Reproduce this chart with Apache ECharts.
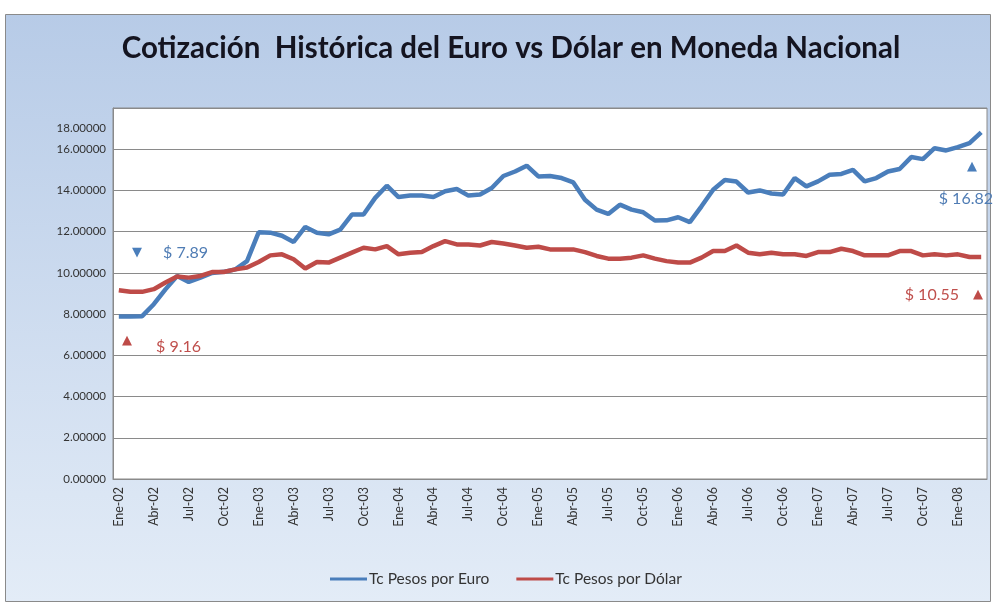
<!DOCTYPE html>
<html>
<head>
<meta charset="utf-8">
<script src="https://cdn.jsdelivr.net/npm/echarts@6/dist/echarts.min.js"></script>
<style>
html,body{margin:0;padding:0;background:#fff;}
#c{width:994px;height:603px;}
</style>
</head>
<body>
<div id="c"></div>
<script>
const categories = [
 "Ene-02","Feb-02","Mar-02","Abr-02","May-02","Jun-02","Jul-02","Ago-02","Sep-02","Oct-02","Nov-02","Dic-02",
 "Ene-03","Feb-03","Mar-03","Abr-03","May-03","Jun-03","Jul-03","Ago-03","Sep-03","Oct-03","Nov-03","Dic-03",
 "Ene-04","Feb-04","Mar-04","Abr-04","May-04","Jun-04","Jul-04","Ago-04","Sep-04","Oct-04","Nov-04","Dic-04",
 "Ene-05","Feb-05","Mar-05","Abr-05","May-05","Jun-05","Jul-05","Ago-05","Sep-05","Oct-05","Nov-05","Dic-05",
 "Ene-06","Feb-06","Mar-06","Abr-06","May-06","Jun-06","Jul-06","Ago-06","Sep-06","Oct-06","Nov-06","Dic-06",
 "Ene-07","Feb-07","Mar-07","Abr-07","May-07","Jun-07","Jul-07","Ago-07","Sep-07","Oct-07","Nov-07","Dic-07",
 "Ene-08","Feb-08","Mar-08"
];
const euro = [
 7.89, 7.89, 7.90, 8.48, 9.20, 9.85, 9.56, 9.77, 10.00, 10.05, 10.17, 10.57,
 11.97, 11.95, 11.80, 11.50, 12.23, 11.95, 11.87, 12.10, 12.83, 12.83, 13.64, 14.23,
 13.68, 13.75, 13.75, 13.68, 13.96, 14.07, 13.75, 13.80, 14.12, 14.70, 14.92, 15.20,
 14.68, 14.70, 14.60, 14.39, 13.55, 13.07, 12.86, 13.31, 13.07, 12.94, 12.54, 12.55,
 12.70, 12.46, 13.23, 14.03, 14.51, 14.43, 13.90, 14.00, 13.85, 13.80, 14.60, 14.20,
 14.44, 14.76, 14.80, 15.00, 14.44, 14.60, 14.92, 15.04, 15.62, 15.52, 16.05, 15.94,
 16.10, 16.30, 16.82
];
const dolar = [
 9.16, 9.08, 9.08, 9.21, 9.53, 9.82, 9.77, 9.85, 10.04, 10.04, 10.17, 10.26,
 10.53, 10.85, 10.90, 10.66, 10.21, 10.53, 10.50, 10.74, 10.98, 11.22, 11.14, 11.30,
 10.90, 10.98, 11.01, 11.30, 11.54, 11.38, 11.38, 11.33, 11.50, 11.43, 11.33, 11.22,
 11.27, 11.14, 11.14, 11.14, 11.01, 10.82, 10.69, 10.69, 10.74, 10.85, 10.69, 10.57,
 10.50, 10.50, 10.74, 11.06, 11.06, 11.33, 10.98, 10.90, 10.98, 10.90, 10.90, 10.82,
 11.01, 11.01, 11.17, 11.06, 10.85, 10.85, 10.85, 11.06, 11.06, 10.85, 10.90, 10.85,
 10.90, 10.77, 10.77
];
const seriesNames = ["Tc Pesos por Euro", "Tc Pesos por Dólar"];
const titleText = "Cotización  Histórica del Euro vs Dólar en Moneda Nacional";
const annotations = ["$ 7.89", "$ 9.16", "$ 16.82", "$ 10.55"];

const BLUE = '#4a7ebb', RED = '#be4b48';
const FONT = 'Lato, "Open Sans", sans-serif';

const chart = echarts.init(document.getElementById('c'));
chart.setOption({
  animation: false,
  graphic: [
    { type: 'rect', z: -100, shape: { x: 5.5, y: 14.5, width: 985, height: 587 },
      style: { fill: new echarts.graphic.LinearGradient(0, 0, 0, 1, [
        { offset: 0, color: '#b7cbe7' }, { offset: 1, color: '#e3ecf7' }]),
        stroke: '#8a8a8a', lineWidth: 1 } },
    { type: 'text', z: 100, x: 511, y: 48, style: { text: titleText, align: 'center', verticalAlign: 'middle',
        font: 'bold 29.5px ' + FONT, fill: '#141420' } },
    { type: 'text', z: 100, x: 137, y: 253, style: { text: '▼', align: 'center', verticalAlign: 'middle', font: '13px "DejaVu Sans"', fill: BLUE } },
    { type: 'text', z: 100, x: 163, y: 253, style: { text: annotations[0], align: 'left', verticalAlign: 'middle', font: '16px ' + FONT, fill: '#4f7cb4' } },
    { type: 'text', z: 100, x: 127, y: 341, style: { text: '▲', align: 'center', verticalAlign: 'middle', font: '13px "DejaVu Sans"', fill: RED } },
    { type: 'text', z: 100, x: 156, y: 347, style: { text: annotations[1], align: 'left', verticalAlign: 'middle', font: '16px ' + FONT, fill: '#c0504d' } },
    { type: 'text', z: 100, x: 972, y: 167, style: { text: '▲', align: 'center', verticalAlign: 'middle', font: '13px "DejaVu Sans"', fill: BLUE } },
    { type: 'text', z: 100, x: 993, y: 199, style: { text: annotations[2], align: 'right', verticalAlign: 'middle', font: '16px ' + FONT, fill: '#4f7cb4' } },
    { type: 'text', z: 100, x: 978, y: 295, style: { text: '▲', align: 'center', verticalAlign: 'middle', font: '13px "DejaVu Sans"', fill: RED } },
    { type: 'text', z: 100, x: 959, y: 295, style: { text: annotations[3], align: 'right', verticalAlign: 'middle', font: '16px ' + FONT, fill: '#c0504d' } }
  ],
  grid: { left: 113, right: 7, top: 108, bottom: 124, show: true, backgroundColor: '#ffffff', borderColor: '#8a8a8a', borderWidth: 1, containLabel: false },
  legend: {
    left: 330, top: 571, padding: 0, icon: 'rect', itemWidth: 37, itemHeight: 3, itemGap: 27,
    textStyle: { fontFamily: FONT, fontSize: 15.5, color: '#333', padding: [0, 0, 0, -3] },
    data: seriesNames
  },
  xAxis: {
    type: 'category', data: categories, boundaryGap: true,
    axisLine: { show: true, lineStyle: { color: '#8a8a8a' } },
    axisTick: { show: false },
    axisLabel: { interval: 2, rotate: 90, margin: 8, fontFamily: FONT, fontSize: 12.5, color: '#333' },
    splitLine: { show: false }
  },
  yAxis: {
    type: 'value', min: 0, max: 18, interval: 2,
    axisLine: { show: true, lineStyle: { color: '#8a8a8a' } },
    axisTick: { show: false },
    axisLabel: { margin: 7, fontFamily: FONT, fontSize: 11.5, color: '#333',
      formatter: v => v === 18 ? '{top|' + v.toFixed(5) + '}' : v.toFixed(5),
      rich: { top: { fontFamily: FONT, fontSize: 11.5, color: '#333', padding: [40, 0, 0, 0] } } },
    splitLine: { show: true, lineStyle: { color: '#8a8a8a', width: 1 } }
  },
  series: [
    { name: seriesNames[0], type: 'line', data: euro, showSymbol: false, symbol: 'none', lineStyle: { color: BLUE, width: 4.5 }, itemStyle: { color: BLUE } },
    { name: seriesNames[1], type: 'line', data: dolar, showSymbol: false, symbol: 'none', lineStyle: { color: RED, width: 4.5 }, itemStyle: { color: RED } }
  ]
});
</script>
</body>
</html>
